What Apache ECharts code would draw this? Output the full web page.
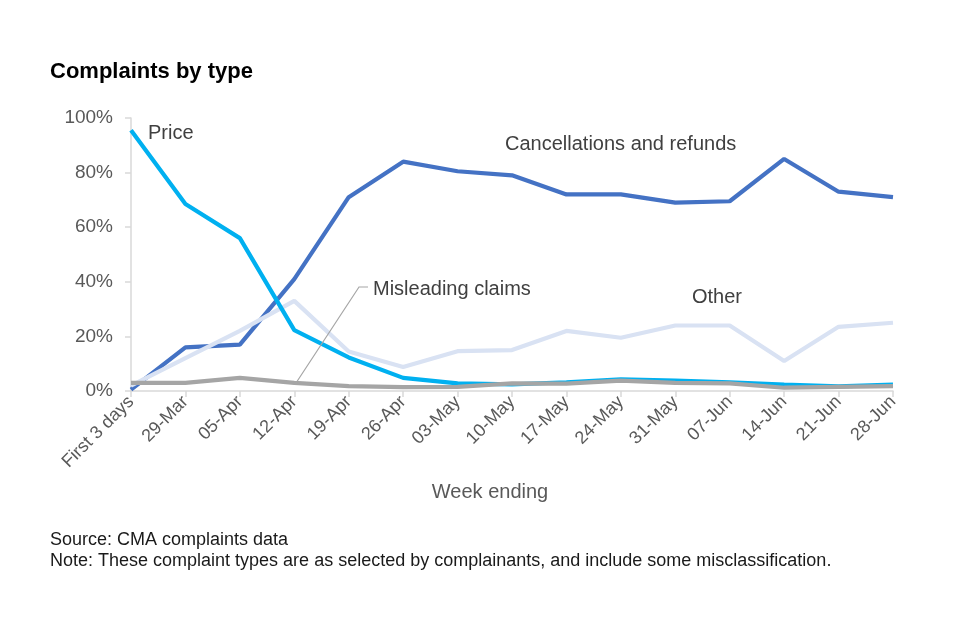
<!DOCTYPE html>
<html>
<head>
<meta charset="utf-8">
<script src="https://cdn.jsdelivr.net/npm/echarts@6/dist/echarts.min.js"></script>
<style>html,body{margin:0;padding:0;background:#fff;}#c{width:960px;height:640px;}</style>
</head>
<body>
<div id="c"></div>
<script>
var categories = ['First 3 days','29-Mar','05-Apr','12-Apr','19-Apr','26-Apr','03-May','10-May','17-May','24-May','31-May','07-Jun','14-Jun','21-Jun','28-Jun'];
var cancellations = [0.5, 16, 17, 41, 71, 84, 80.5, 79, 72, 72, 69, 69.5, 85, 73, 71];
var other = [2, 12, 22, 33, 14.5, 8.8, 14.6, 15, 22, 19.5, 24, 24, 11, 23.5, 25];
var price = [95.5, 68.5, 56, 22.3, 12.3, 4.8, 2.8, 2.4, 3.2, 4.3, 3.8, 3.2, 2.3, 1.7, 2.3];
var misleading = [3, 3, 4.8, 3, 1.8, 1.4, 1.5, 2.8, 2.7, 3.8, 3, 2.8, 1.2, 1.5, 1.8];
var yTicks = [0, 20, 40, 60, 80, 100];

var chart = echarts.init(document.getElementById('c'));
var FONT = 'Liberation Sans, Arial, sans-serif';
var lineStyle = function(c){ return {color: c, width: 4.2}; };
function label(text, x, y, size, fill) {
  return {type: 'text', x: x, y: y, z: 20, style: {text: text, fontSize: size, fill: fill, fontFamily: FONT, align: 'left', verticalAlign: 'middle'}};
}
chart.setOption({
  animation: false,
  textStyle: {fontFamily: FONT},
  grid: {left: 131, right: 67, top: 118, bottom: 249, containLabel: false},
  xAxis: {
    type: 'category', data: categories, boundaryGap: false,
    axisLine: {lineStyle: {color: '#D9D9D9', width: 1.5}},
    axisTick: {show: true, alignWithLabel: true, length: 6, lineStyle: {color: '#D9D9D9', width: 1.5}},
    axisLabel: {rotate: 45, fontSize: 18, color: '#595959', margin: 8, interval: 0, fontFamily: FONT}
  },
  yAxis: {
    type: 'value', min: 0, max: 100, interval: 20,
    axisLine: {show: true, lineStyle: {color: '#D9D9D9', width: 1.5}},
    axisTick: {show: true, length: 6, lineStyle: {color: '#D9D9D9', width: 1.5}},
    splitLine: {show: false},
    axisLabel: {formatter: '{value}%', fontSize: 19, color: '#595959', margin: 18, fontFamily: FONT}
  },
  series: [
    {name: 'Cancellations and refunds', type: 'line', data: cancellations, symbol: 'none', lineStyle: lineStyle('#4472C4'), z: 2},
    {name: 'Other', type: 'line', data: other, symbol: 'none', lineStyle: lineStyle('#D9E2F3'), z: 3},
    {name: 'Price', type: 'line', data: price, symbol: 'none', lineStyle: lineStyle('#00B0F0'), z: 4},
    {name: 'Misleading claims', type: 'line', data: misleading, symbol: 'none', lineStyle: lineStyle('#A5A5A5'), z: 5}
  ],
  graphic: [
    {type: 'text', x: 50, y: 72, z: 20, style: {text: 'Complaints by type', fontSize: 22, fontWeight: 'bold', fill: '#000', fontFamily: FONT, verticalAlign: 'middle'}},
    label('Price', 148, 133, 20, '#404040'),
    label('Cancellations and refunds', 505, 144, 20, '#404040'),
    label('Misleading claims', 373, 289, 20, '#404040'),
    label('Other', 692, 297, 20, '#404040'),
    {type: 'polyline', shape: {points: [[296, 383], [359, 287], [368, 287]]}, style: {stroke: '#A6A6A6', lineWidth: 1.2, fill: null}, z: 10},
    {type: 'text', x: 490, y: 492, z: 20, style: {text: 'Week ending', fontSize: 20, fill: '#595959', fontFamily: FONT, align: 'center', verticalAlign: 'middle'}},
    label('Source: CMA complaints data', 50, 540, 18, '#1a1a1a'),
    label('Note: These complaint types are as selected by complainants, and include some misclassification.', 50, 561, 18, '#1a1a1a')
  ]
});
</script>
</body>
</html>
